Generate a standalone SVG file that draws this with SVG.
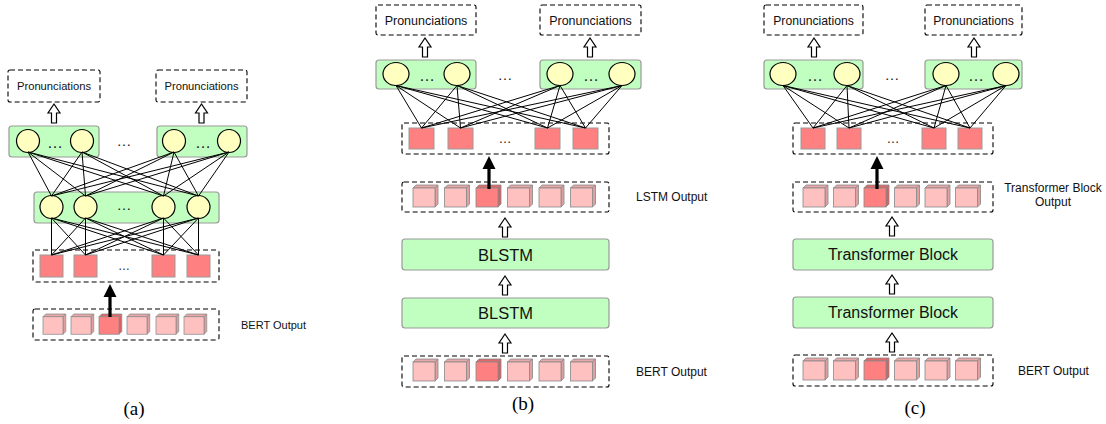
<svg xmlns="http://www.w3.org/2000/svg" xmlns:xlink="http://www.w3.org/1999/xlink" width="1106" height="424" viewBox="0 0 1106 424">
<style>
.dash{fill:none;stroke:#000;stroke-width:1.1;stroke-dasharray:5,3}
.grn{fill:#C0FFC0;stroke:#999;stroke-width:1.2}
.neu{fill:#FFFFC0;stroke:#000;stroke-width:1.2}
.sq{fill:#FF8080;stroke:#999;stroke-width:1}
.lbl{font-family:"Liberation Sans",Arial,sans-serif;fill:#111}
.dots{font-family:"Liberation Sans",Arial,sans-serif;fill:#222;text-anchor:middle}
.cap{font-family:"Liberation Serif","Times New Roman",serif;font-size:19px;fill:#000;text-anchor:middle}
.conn line{stroke:#000;stroke-width:1}
.hol{fill:#fff;stroke:#000;stroke-width:1.2}
</style>
<defs>
<path id="hollow" class="hol" d="M0,0 L6,9 L2.5,9 L2.5,19 L-2.5,19 L-2.5,9 L-6,9 Z"/>
<path id="bold" d="M0,0 L6.5,13 L1.6,13 L1.6,33 L-1.6,33 L-1.6,13 L-6.5,13 Z" fill="#000"/>
<g id="cubeL">
<polygon points="0,3 3,0 25,0 22,3" fill="#E8A8A8" stroke="#888" stroke-width="0.8"/>
<polygon points="22,3 25,0 25,19 22,22" fill="#E0A0A0" stroke="#888" stroke-width="0.8"/>
<rect x="0" y="3" width="22" height="19" fill="#FFC0C0" stroke="#888" stroke-width="0.8"/>
</g>
<g id="cubeD">
<polygon points="0,3 3,0 25,0 22,3" fill="#E06868" stroke="#888" stroke-width="0.8"/>
<polygon points="22,3 25,0 25,19 22,22" fill="#D86060" stroke="#888" stroke-width="0.8"/>
<rect x="0" y="3" width="22" height="19" fill="#FF8080" stroke="#888" stroke-width="0.8"/>
</g>
</defs>

<!-- ================= Panel (a) ================= -->
<g id="a-pron-left"><rect class="dash" x="8" y="70" width="92" height="32" rx="2"/><text class="lbl" x="54" y="90" font-size="11.2" text-anchor="middle">Pronunciations</text></g>
<g id="a-pron-right"><rect class="dash" x="156" y="70" width="91" height="32" rx="2"/><text class="lbl" x="201.5" y="90" font-size="11.2" text-anchor="middle">Pronunciations</text></g>
<g id="a-out-left"><rect class="grn" x="9" y="126" width="90" height="31" rx="3"/><circle class="neu" cx="28" cy="141" r="11.5"/><circle class="neu" cx="82" cy="141" r="11.5"/><text class="dots" x="55" y="148" font-size="16">…</text></g>
<g id="a-out-right"><rect class="grn" x="157" y="126" width="90" height="31" rx="3"/><circle class="neu" cx="174" cy="141" r="11.5"/><circle class="neu" cx="229" cy="141" r="11.5"/><text class="dots" x="203" y="148" font-size="16">…</text></g>
<text class="dots" x="124" y="146" font-size="15">…</text>
<g id="a-hidden"><rect class="grn" x="34" y="192" width="185" height="31" rx="3"/><circle class="neu" cx="51.5" cy="207" r="11.5"/><circle class="neu" cx="85.5" cy="207" r="11.5"/><circle class="neu" cx="163.5" cy="207" r="11.5"/><circle class="neu" cx="198.5" cy="207" r="11.5"/><text class="dots" x="124" y="210" font-size="15">…</text></g>
<g id="a-select"><rect class="dash" x="33" y="250" width="186" height="32" rx="2"/><rect class="sq" x="40" y="255" width="23" height="22"/><rect class="sq" x="74" y="255" width="23" height="22"/><rect class="sq" x="152" y="255" width="23" height="22"/><rect class="sq" x="187" y="255" width="23" height="22"/><text class="dots" x="124" y="270" font-size="12">…</text></g>
<g id="a-bert"><rect class="dash" x="33" y="309" width="186" height="31" rx="2"/>
<use xlink:href="#cubeL" transform="translate(43,314) scale(0.91,0.92)"/>
<use xlink:href="#cubeL" transform="translate(71,314) scale(0.91,0.92)"/>
<use xlink:href="#cubeD" transform="translate(99,314) scale(0.91,0.92)"/>
<use xlink:href="#cubeL" transform="translate(127,314) scale(0.91,0.92)"/>
<use xlink:href="#cubeL" transform="translate(156,314) scale(0.91,0.92)"/>
<use xlink:href="#cubeL" transform="translate(184,314) scale(0.91,0.92)"/>
<text class="lbl" x="241" y="329" font-size="11">BERT Output</text></g>
<text class="cap" x="134" y="415">(a)</text>

<!-- ================= Panel (b) ================= -->
<g id="b-pron-left"><rect class="dash" x="376" y="5" width="100" height="30" rx="2"/><text class="lbl" x="426" y="25" font-size="12.5" text-anchor="middle">Pronunciations</text></g>
<g id="b-pron-right"><rect class="dash" x="540" y="5" width="101" height="30" rx="2"/><text class="lbl" x="590.5" y="25" font-size="12.5" text-anchor="middle">Pronunciations</text></g>
<g id="b-out-left"><rect class="grn" x="376" y="60" width="100" height="29" rx="3"/><ellipse class="neu" cx="396" cy="74" rx="13" ry="11.5"/><ellipse class="neu" cx="457" cy="74" rx="13" ry="11.5"/><text class="dots" x="427" y="81" font-size="16">…</text></g>
<g id="b-out-right"><rect class="grn" x="540" y="60" width="101" height="29" rx="3"/><ellipse class="neu" cx="560" cy="74" rx="13" ry="11.5"/><ellipse class="neu" cx="622" cy="74" rx="13" ry="11.5"/><text class="dots" x="591" y="81" font-size="16">…</text></g>
<text class="dots" x="505" y="80" font-size="15">…</text>
<g id="b-select"><rect class="dash" x="402" y="123" width="207" height="31" rx="2"/><rect class="sq" x="409" y="128" width="25" height="21"/><rect class="sq" x="448" y="128" width="25" height="21"/><rect class="sq" x="535" y="128" width="25" height="21"/><rect class="sq" x="573" y="128" width="25" height="21"/><text class="dots" x="505" y="143" font-size="13">…</text></g>
<g id="b-lstm-out"><rect class="dash" x="402" y="182" width="207" height="30" rx="2"/>
<use xlink:href="#cubeL" x="413" y="185"/><use xlink:href="#cubeL" x="444.5" y="185"/><use xlink:href="#cubeD" x="476" y="185"/><use xlink:href="#cubeL" x="507.5" y="185"/><use xlink:href="#cubeL" x="539" y="185"/><use xlink:href="#cubeL" x="570.5" y="185"/>
<text class="lbl" x="636" y="201" font-size="12">LSTM Output</text></g>
<g id="b-blstm2"><rect class="grn" x="402" y="239" width="207" height="31" rx="3"/><text class="lbl" x="505.5" y="260.5" font-size="16.5" text-anchor="middle">BLSTM</text></g>
<g id="b-blstm1"><rect class="grn" x="402" y="298" width="207" height="30" rx="3"/><text class="lbl" x="505.5" y="319" font-size="16.5" text-anchor="middle">BLSTM</text></g>
<g id="b-bert"><rect class="dash" x="402" y="356" width="207" height="31" rx="2"/>
<use xlink:href="#cubeL" x="413" y="359"/><use xlink:href="#cubeL" x="444.5" y="359"/><use xlink:href="#cubeD" x="476" y="359"/><use xlink:href="#cubeL" x="507.5" y="359"/><use xlink:href="#cubeL" x="539" y="359"/><use xlink:href="#cubeL" x="570.5" y="359"/>
<text class="lbl" x="636" y="376" font-size="12">BERT Output</text></g>
<text class="cap" x="523" y="410">(b)</text>

<!-- ================= Panel (c) ================= -->
<g id="c-pron-left"><rect class="dash" x="764" y="5" width="99" height="30" rx="2"/><text class="lbl" x="813.5" y="25" font-size="12.2" text-anchor="middle">Pronunciations</text></g>
<g id="c-pron-right"><rect class="dash" x="925" y="5" width="97" height="30" rx="2"/><text class="lbl" x="973.5" y="25" font-size="12.2" text-anchor="middle">Pronunciations</text></g>
<g id="c-out-left"><rect class="grn" x="764" y="60" width="99" height="29" rx="3"/><ellipse class="neu" cx="783" cy="74" rx="13" ry="11.5"/><ellipse class="neu" cx="847" cy="74" rx="13" ry="11.5"/><text class="dots" x="815" y="81" font-size="16">…</text></g>
<g id="c-out-right"><rect class="grn" x="925" y="60" width="97" height="29" rx="3"/><ellipse class="neu" cx="946" cy="74" rx="13" ry="11.5"/><ellipse class="neu" cx="1006" cy="74" rx="13" ry="11.5"/><text class="dots" x="976" y="81" font-size="16">…</text></g>
<text class="dots" x="892" y="80" font-size="15">…</text>
<g id="c-select"><rect class="dash" x="793" y="123" width="200" height="31" rx="2"/><rect class="sq" x="801" y="128" width="24" height="21"/><rect class="sq" x="837" y="128" width="24" height="21"/><rect class="sq" x="922" y="128" width="24" height="21"/><rect class="sq" x="958" y="128" width="24" height="21"/><text class="dots" x="893" y="143" font-size="13">…</text></g>
<g id="c-tb-out"><rect class="dash" x="793" y="182" width="200" height="30" rx="2"/>
<use xlink:href="#cubeL" x="803" y="185"/><use xlink:href="#cubeL" x="833.5" y="185"/><use xlink:href="#cubeD" x="864" y="185"/><use xlink:href="#cubeL" x="894.5" y="185"/><use xlink:href="#cubeL" x="925" y="185"/><use xlink:href="#cubeL" x="955.5" y="185"/>
<text class="lbl" x="1053" y="192" font-size="12" text-anchor="middle">Transformer Block</text><text class="lbl" x="1053" y="206" font-size="12" text-anchor="middle">Output</text></g>
<g id="c-tb2"><rect class="grn" x="793" y="239" width="200" height="31" rx="3"/><text class="lbl" x="893" y="260" font-size="16" text-anchor="middle">Transformer Block</text></g>
<g id="c-tb1"><rect class="grn" x="793" y="297" width="200" height="31" rx="3"/><text class="lbl" x="893" y="318" font-size="16" text-anchor="middle">Transformer Block</text></g>
<g id="c-bert"><rect class="dash" x="793" y="355" width="200" height="31" rx="2"/>
<use xlink:href="#cubeL" x="803" y="358"/><use xlink:href="#cubeL" x="833.5" y="358"/><use xlink:href="#cubeD" x="864" y="358"/><use xlink:href="#cubeL" x="894.5" y="358"/><use xlink:href="#cubeL" x="925" y="358"/><use xlink:href="#cubeL" x="955.5" y="358"/>
<text class="lbl" x="1018" y="375" font-size="12">BERT Output</text></g>
<text class="cap" x="915" y="414">(c)</text>

<!-- ================= Connectors ================= -->
<g id="connectors" class="conn">
<line x1="28" y1="152" x2="51.5" y2="196"/><line x1="28" y1="152" x2="85.5" y2="196"/><line x1="28" y1="152" x2="163.5" y2="196"/><line x1="28" y1="152" x2="198.5" y2="196"/>
<line x1="82" y1="152" x2="51.5" y2="196"/><line x1="82" y1="152" x2="85.5" y2="196"/><line x1="82" y1="152" x2="163.5" y2="196"/><line x1="82" y1="152" x2="198.5" y2="196"/>
<line x1="174" y1="152" x2="51.5" y2="196"/><line x1="174" y1="152" x2="85.5" y2="196"/><line x1="174" y1="152" x2="163.5" y2="196"/><line x1="174" y1="152" x2="198.5" y2="196"/>
<line x1="229" y1="152" x2="51.5" y2="196"/><line x1="229" y1="152" x2="85.5" y2="196"/><line x1="229" y1="152" x2="163.5" y2="196"/><line x1="229" y1="152" x2="198.5" y2="196"/>
<line x1="51.5" y1="218" x2="51.5" y2="255"/><line x1="51.5" y1="218" x2="85.5" y2="255"/><line x1="51.5" y1="218" x2="163.5" y2="255"/><line x1="51.5" y1="218" x2="198.5" y2="255"/>
<line x1="85.5" y1="218" x2="51.5" y2="255"/><line x1="85.5" y1="218" x2="85.5" y2="255"/><line x1="85.5" y1="218" x2="163.5" y2="255"/><line x1="85.5" y1="218" x2="198.5" y2="255"/>
<line x1="163.5" y1="218" x2="51.5" y2="255"/><line x1="163.5" y1="218" x2="85.5" y2="255"/><line x1="163.5" y1="218" x2="163.5" y2="255"/><line x1="163.5" y1="218" x2="198.5" y2="255"/>
<line x1="198.5" y1="218" x2="51.5" y2="255"/><line x1="198.5" y1="218" x2="85.5" y2="255"/><line x1="198.5" y1="218" x2="163.5" y2="255"/><line x1="198.5" y1="218" x2="198.5" y2="255"/>
<line x1="396" y1="85.5" x2="421.5" y2="128"/><line x1="396" y1="85.5" x2="460.5" y2="128"/><line x1="396" y1="85.5" x2="547.5" y2="128"/><line x1="396" y1="85.5" x2="585.5" y2="128"/>
<line x1="457" y1="85.5" x2="421.5" y2="128"/><line x1="457" y1="85.5" x2="460.5" y2="128"/><line x1="457" y1="85.5" x2="547.5" y2="128"/><line x1="457" y1="85.5" x2="585.5" y2="128"/>
<line x1="560" y1="85.5" x2="421.5" y2="128"/><line x1="560" y1="85.5" x2="460.5" y2="128"/><line x1="560" y1="85.5" x2="547.5" y2="128"/><line x1="560" y1="85.5" x2="585.5" y2="128"/>
<line x1="622" y1="85.5" x2="421.5" y2="128"/><line x1="622" y1="85.5" x2="460.5" y2="128"/><line x1="622" y1="85.5" x2="547.5" y2="128"/><line x1="622" y1="85.5" x2="585.5" y2="128"/>
<line x1="783" y1="85.5" x2="813" y2="128"/><line x1="783" y1="85.5" x2="849" y2="128"/><line x1="783" y1="85.5" x2="934" y2="128"/><line x1="783" y1="85.5" x2="970" y2="128"/>
<line x1="847" y1="85.5" x2="813" y2="128"/><line x1="847" y1="85.5" x2="849" y2="128"/><line x1="847" y1="85.5" x2="934" y2="128"/><line x1="847" y1="85.5" x2="970" y2="128"/>
<line x1="946" y1="85.5" x2="813" y2="128"/><line x1="946" y1="85.5" x2="849" y2="128"/><line x1="946" y1="85.5" x2="934" y2="128"/><line x1="946" y1="85.5" x2="970" y2="128"/>
<line x1="1006" y1="85.5" x2="813" y2="128"/><line x1="1006" y1="85.5" x2="849" y2="128"/><line x1="1006" y1="85.5" x2="934" y2="128"/><line x1="1006" y1="85.5" x2="970" y2="128"/>
<use xlink:href="#hollow" x="54" y="104"/><use xlink:href="#hollow" x="201.5" y="104"/>
<use xlink:href="#hollow" x="425" y="38"/><use xlink:href="#hollow" x="590" y="38"/>
<use xlink:href="#hollow" x="505" y="218"/><use xlink:href="#hollow" x="505" y="276"/><use xlink:href="#hollow" x="505" y="334"/>
<use xlink:href="#hollow" x="814" y="38"/><use xlink:href="#hollow" x="974" y="38"/>
<use xlink:href="#hollow" x="892" y="217"/><use xlink:href="#hollow" x="892" y="275"/><use xlink:href="#hollow" x="892" y="333"/>
<use xlink:href="#bold" x="110" y="284"/>
<use xlink:href="#bold" x="489" y="156"/>
<use xlink:href="#bold" x="877" y="156"/>
</g>
</svg>
